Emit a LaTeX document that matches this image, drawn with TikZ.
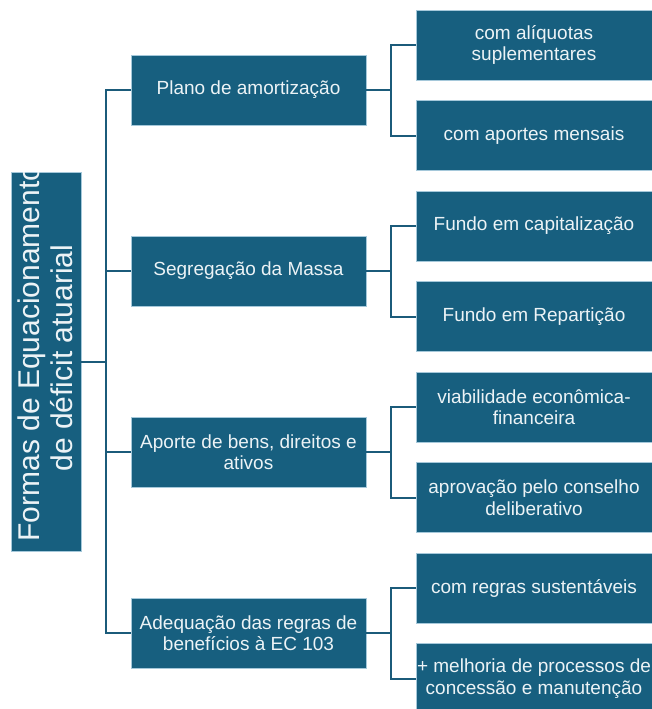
\documentclass[tikz,border=0pt]{standalone}
\usepackage{fontspec}
\setmainfont{Liberation Sans}
\definecolor{boxfill}{RGB}{23,95,127}
\definecolor{boxline}{RGB}{165,200,218}
\definecolor{conn}{RGB}{27,91,122}
\definecolor{txt}{RGB}{236,243,246}
\begin{document}
\begin{tikzpicture}[x=1pt,y=-1pt,
  box/.style={fill=boxfill,draw=boxline,line width=0.8pt,text=txt,align=center,
    inner sep=0pt,font=\fontsize{19}{21.5}\selectfont},
  midbox/.style={box,minimum width=235pt,minimum height=70pt},
  leafbox/.style={box,minimum width=236pt,minimum height=70pt},
  link/.style={draw=conn,line width=2pt}]
\useasboundingbox (0,0) rectangle (652,709);
% root
\node[box,minimum width=70pt,minimum height=379pt] (root) at (46,361.5) {};
\begin{scope}
  \clip (11,172.5) rectangle (81,550.5);
  \node[text=txt,rotate=90,align=center,inner sep=0pt,
    font=\fontsize{30}{33}\selectfont] (roottext) at (45,353) {Formas de Equacionamento\\de déficit atuarial\hspace*{10pt}};
\end{scope}
% middle
\node[midbox] (m1) at (248.5,90) {Plano de amortização};
\node[midbox] (m2) at (248.5,271) {Segregação da Massa};
\node[midbox] (m3) at (248.5,452) {Aporte de bens, direitos e\\ativos};
\node[midbox] (m4) at (248.5,633) {Adequação das regras de\\benefícios à EC 103};
% leaves
\node[leafbox] (r1) at (534,45) {com alíquotas\\suplementares};
\node[leafbox] (r2) at (534,135.5) {com aportes mensais};
\node[leafbox] (r3) at (534,226) {Fundo em capitalização};
\node[leafbox] (r4) at (534,316.5) {Fundo em Repartição};
\node[leafbox] (r5) at (534,407) {viabilidade econômica-\\financeira};
\node[leafbox] (r6) at (534,497.5) {aprovação pelo conselho\\deliberativo};
\node[leafbox] (r7) at (534,588) {com regras sustentáveis};
\node[leafbox] (r8) at (534,678.5) {+ melhoria de processos de\\concessão e manutenção};
% connectors root -> middle
\coordinate (tr) at (106,361.5);
\draw[link] (root.east) -- (tr);
\draw[link] (m1.west) -| (tr);
\draw[link] (m2.west) -| (tr);
\draw[link] (m3.west) -| (tr);
\draw[link] (m4.west) -| (tr);
% connectors middle -> leaves
\coordinate (j1) at (391,90);
\coordinate (j2) at (391,271);
\coordinate (j3) at (391,452);
\coordinate (j4) at (391,633);
\draw[link] (m1.east) -- (j1);
\draw[link] (r1.west) -| (j1);
\draw[link] (r2.west) -| (j1);
\draw[link] (m2.east) -- (j2);
\draw[link] (r3.west) -| (j2);
\draw[link] (r4.west) -| (j2);
\draw[link] (m3.east) -- (j3);
\draw[link] (r5.west) -| (j3);
\draw[link] (r6.west) -| (j3);
\draw[link] (m4.east) -- (j4);
\draw[link] (r7.west) -| (j4);
\draw[link] (r8.west) -| (j4);
\end{tikzpicture}
\end{document}
